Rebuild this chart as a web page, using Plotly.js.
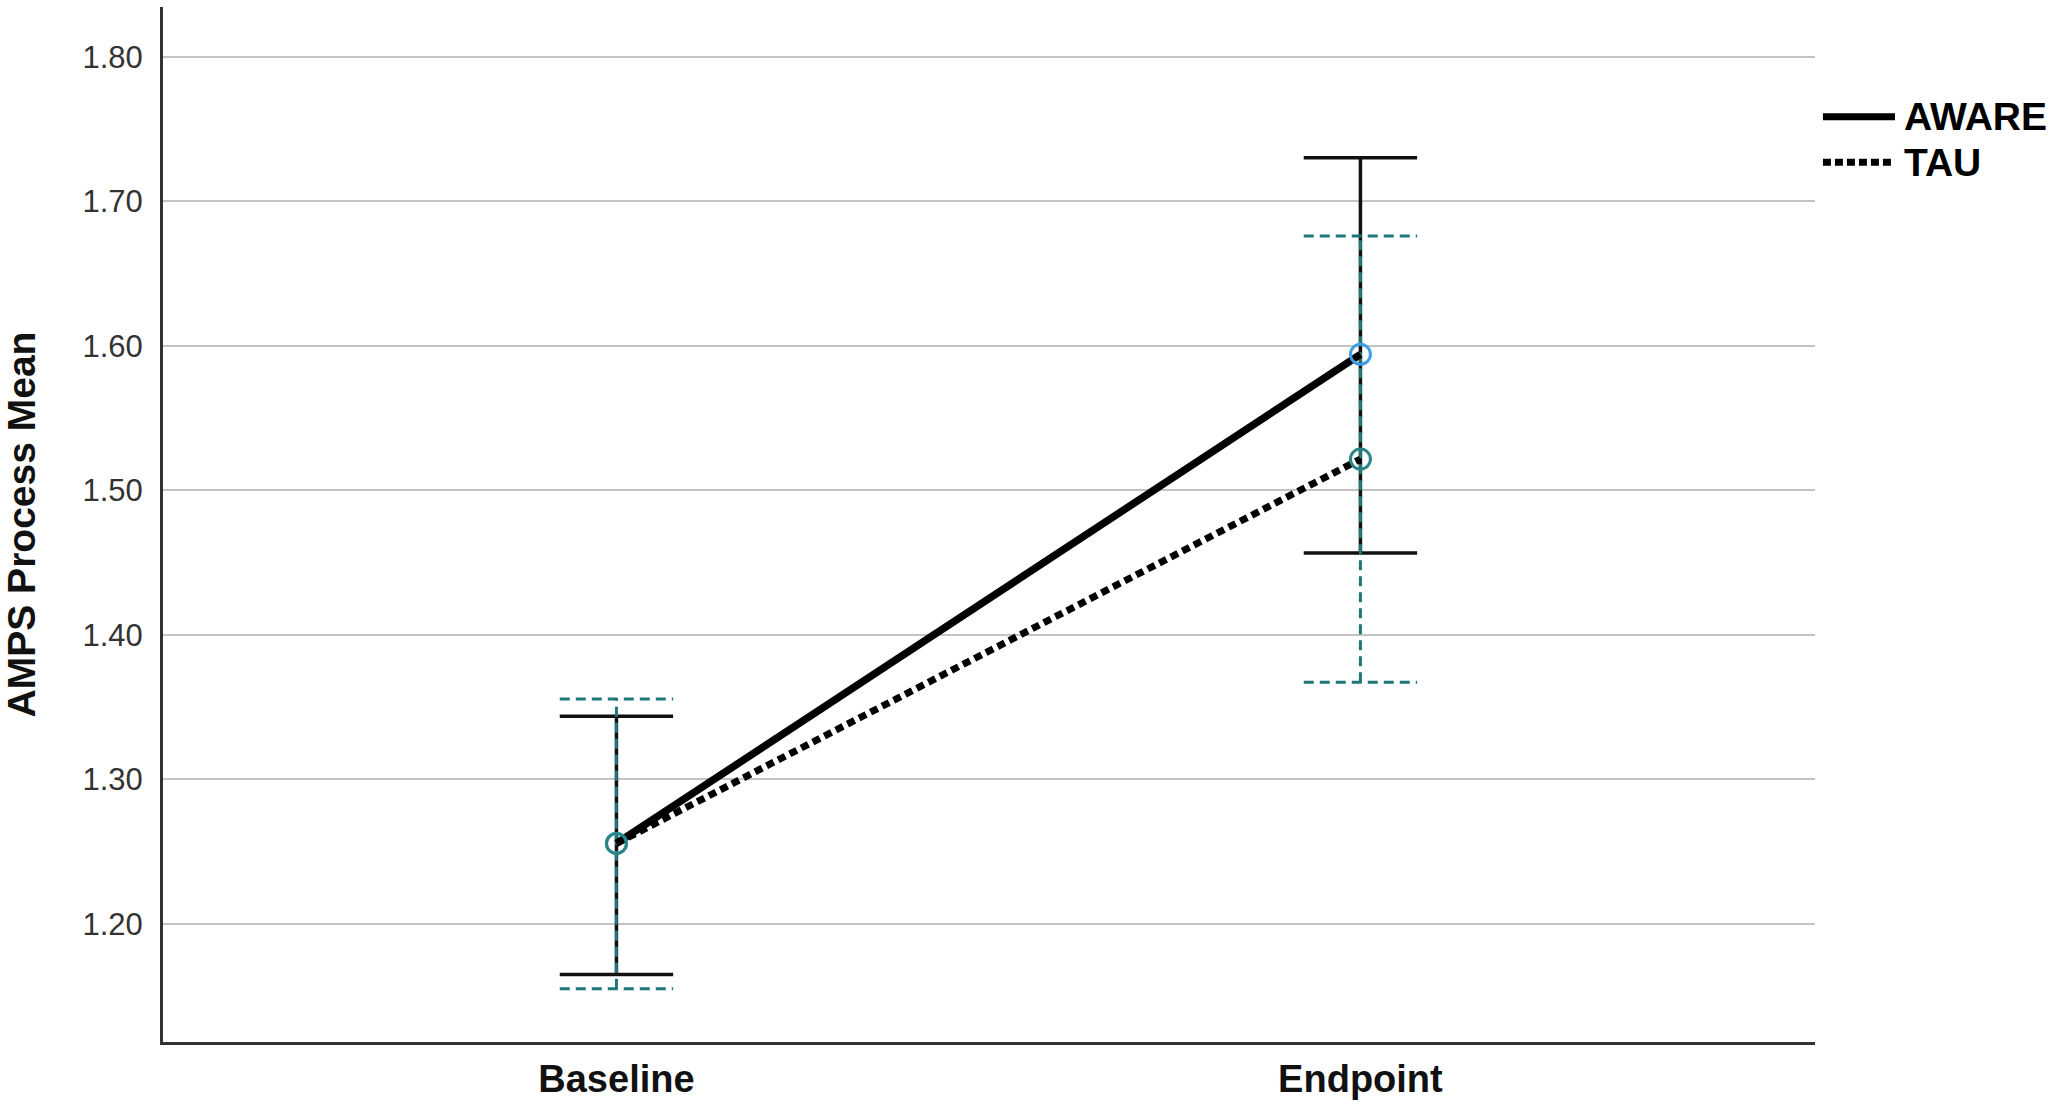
<!DOCTYPE html>
<html>
<head>
<meta charset="utf-8">
<script src="https://cdn.plot.ly/plotly-3.0.1.min.js"></script>
<style>
  html, body { margin: 0; padding: 0; background: #ffffff; }
  #chart { width: 2050px; height: 1106px; }
</style>
</head>
<body>
<div id="chart"></div>
<script>
// ---- Data ----
const categories = ["Baseline", "Endpoint"];
const seriesNames = ["AWARE", "TAU"];
const awareMean  = [1.2555, 1.594];
const awareLower = [1.1648, 1.4565];
const awareUpper = [1.3435, 1.730];
const tauMean    = [1.2555, 1.5215];
const tauLower   = [1.1550, 1.367];
const tauUpper   = [1.3555, 1.676];
const yTickVals  = [1.2, 1.3, 1.4, 1.5, 1.6, 1.7, 1.8];
const yTickText  = ["1.20", "1.30", "1.40", "1.50", "1.60", "1.70", "1.80"];

// ---- Styling ----
const FONT = "Liberation Sans, Arial, sans-serif";
const CAP_HALF = 0.0762;          // half width of the error-bar caps, x-axis units
const TEAL = "#1f7777";

function errorBarPath(lower, upper, half) {
  const x = [], y = [];
  for (let i = 0; i < lower.length; i++) {
    x.push(i, i, null, i - half, i + half, null, i - half, i + half, null);
    y.push(lower[i], upper[i], null, upper[i], upper[i], null, lower[i], lower[i], null);
  }
  return { x, y };
}

const xIdx = categories.map((c, i) => i);
const awareErr = errorBarPath(awareLower, awareUpper, CAP_HALF);
const tauErr = errorBarPath(tauLower, tauUpper, CAP_HALF);

const traces = [
  {
    x: awareErr.x, y: awareErr.y, mode: "lines", type: "scatter",
    line: { color: "#111111", width: 3.5 }, showlegend: false, hoverinfo: "skip"
  },
  {
    x: tauErr.x, y: tauErr.y, mode: "lines", type: "scatter",
    line: { color: TEAL, width: 3, dash: "10px,6px" }, showlegend: false, hoverinfo: "skip"
  },
  {
    x: xIdx, y: awareMean, name: seriesNames[0], mode: "lines+markers", type: "scatter",
    line: { color: "#000000", width: 7.5 },
    marker: { symbol: "circle-open", size: 20, color: "#3d9fe6", line: { width: 3 } },
    showlegend: false
  },
  {
    x: xIdx, y: tauMean, name: seriesNames[1], mode: "lines+markers", type: "scatter",
    line: { color: "#000000", width: 7, dash: "8px,5px" },
    marker: { symbol: "circle-open", size: 20, color: "#2a8585", line: { width: 3 } },
    showlegend: false
  }
];

// custom legend (long line samples like the reference)
const legendY = [0.894, 0.850];
const legendDash = ["solid", "8px,4px"];
const shapes = seriesNames.map((n, i) => ({
  type: "line", xref: "paper", yref: "paper",
  x0: 1.0048, x1: 1.0484, y0: legendY[i], y1: legendY[i],
  line: { color: "#000000", width: 7, dash: legendDash[i] }
}));
const annotations = seriesNames.map((n, i) => ({
  xref: "paper", yref: "paper", x: 1.0525, y: legendY[i],
  xanchor: "left", yanchor: "middle", showarrow: false, text: n,
  font: { family: FONT, size: 39, color: "#000000", weight: "bold" }
}));

const layout = {
  width: 2050, height: 1106,
  margin: { l: 163, r: 235, t: 7, b: 64, pad: 0 },
  paper_bgcolor: "#ffffff", plot_bgcolor: "#ffffff",
  showlegend: false,
  xaxis: {
    range: [-0.6095, 1.611],
    tickvals: xIdx, ticktext: categories,
    showgrid: false, zeroline: false,
    showline: true, linecolor: "#333333", linewidth: 3,
    ticks: "", ticklabelstandoff: 1,
    tickfont: { family: FONT, size: 38, color: "#111111", weight: "bold" },
    fixedrange: true
  },
  yaxis: {
    range: [1.1181, 1.8344],
    tickvals: yTickVals, ticktext: yTickText,
    showgrid: true, gridcolor: "#c4c4c4", gridwidth: 2,
    zeroline: false,
    showline: true, linecolor: "#333333", linewidth: 3,
    ticks: "", ticklabelstandoff: 11,
    tickfont: { family: FONT, size: 31, color: "#333333" },
    title: {
      text: "AMPS Process Mean", standoff: 52,
      font: { family: FONT, size: 39, color: "#111111", weight: "bold" }
    },
    automargin: false,
    fixedrange: true
  },
  shapes: shapes,
  annotations: annotations
};

Plotly.newPlot("chart", traces, layout, { displayModeBar: false, staticPlot: true });
</script>
</body>
</html>
